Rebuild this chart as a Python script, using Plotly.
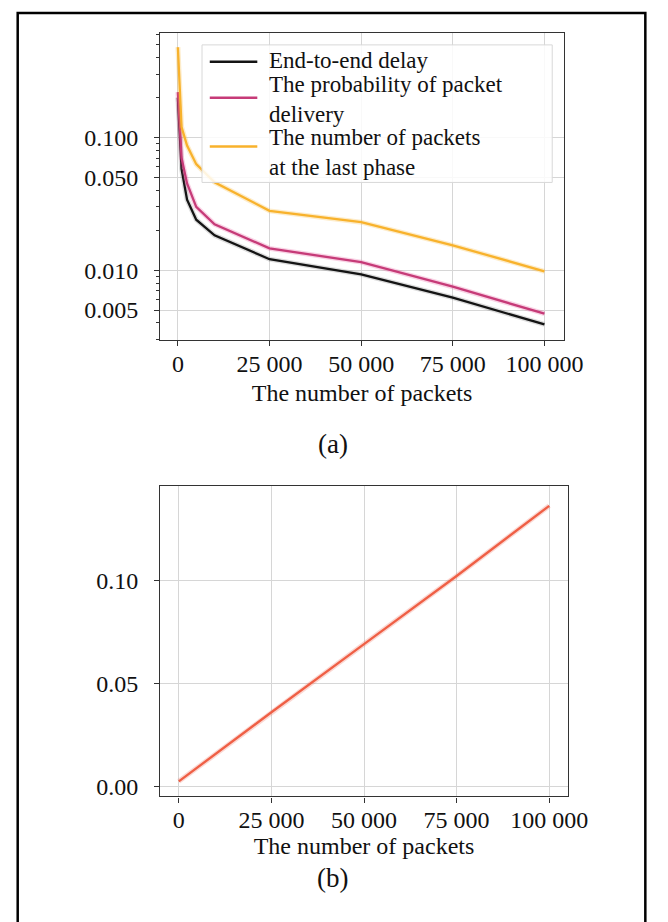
import plotly.graph_objects as go

# ---- data ----
packets = [0, 1000, 2500, 5000, 10000, 25000, 50000, 75000, 100000]
end_to_end_delay = [0.20, 0.058, 0.034, 0.024, 0.0183, 0.0121, 0.0093, 0.0062, 0.0039]
prob_delivery = [0.22, 0.070, 0.045, 0.030, 0.0222, 0.0146, 0.0115, 0.0075, 0.0047]
packets_last_phase = [0.48, 0.120, 0.087, 0.063, 0.046, 0.028, 0.023, 0.0154, 0.0098]

packets_b = [0, 25000, 50000, 75000, 100000]
values_b = [0.0025, 0.036, 0.069, 0.102, 0.136]

x_tick_vals = [0, 25000, 50000, 75000, 100000]
x_tick_text = ["0", "25 000", "50 000", "75 000", "100 000"]
ya_tick_vals = [0.005, 0.01, 0.05, 0.1]
ya_tick_text = ["0.005", "0.010", "0.050", "0.100"]
yb_tick_vals = [0.0, 0.05, 0.10]
yb_tick_text = ["0.00", "0.05", "0.10"]

legend_labels = ["End-to-end delay",
                 "The probability of packet<br>delivery",
                 "The number of packets<br>at the last phase"]
line_colors = ["#141414", "#c63b78", "#f8b22c"]
glow_colors = ["rgba(20,20,20,0.15)", "rgba(230,80,150,0.25)", "rgba(248,178,44,0.25)"]
series_a = [end_to_end_delay, prob_delivery, packets_last_phase]

W, H = 668, 922
FONT = "Liberation Serif"
TXT = "#111111"

fig = go.Figure()

for name, ys, col, glow in zip(legend_labels, series_a, line_colors, glow_colors):
    fig.add_trace(go.Scatter(x=packets, y=ys, mode="lines", xaxis="x", yaxis="y",
                             line=dict(color=glow, width=5), showlegend=False, hoverinfo="skip"))
    fig.add_trace(go.Scatter(x=packets, y=ys, mode="lines", name=name.replace("<br>", " "),
                             xaxis="x", yaxis="y", showlegend=False,
                             line=dict(color=col, width=2.3)))

fig.add_trace(go.Scatter(x=packets_b, y=values_b, mode="lines", xaxis="x2", yaxis="y2",
                         line=dict(color="rgba(240,100,80,0.25)", width=5), showlegend=False, hoverinfo="skip"))
fig.add_trace(go.Scatter(x=packets_b, y=values_b, mode="lines", xaxis="x2", yaxis="y2",
                         line=dict(color="#ef5f45", width=2.3), showlegend=False))

axis_common = dict(showline=True, linecolor="#333333", linewidth=1.3, mirror=True,
                   showgrid=True, gridcolor="#d6d6d6", gridwidth=1,
                   ticks="outside", ticklen=5, tickcolor="#333333", tickwidth=1.2,
                   zeroline=False, tickfont=dict(family=FONT, size=24, color=TXT))


def px_x(a, b):
    return [a / W, b / W]


def px_y(top, bottom):
    return [1 - bottom / H, 1 - top / H]


def py(v):
    return 1 - v / H


# ---- hand-placed legend (box, sample lines, texts) ----
box_l, box_r, box_t, box_b = 200, 561, 37, 175
entry_centers = [53, 92, 145]
sample_centers = [54, 90, 139]
sample_x0, sample_x1, text_x = 208, 257, 267

shapes = [
    dict(type="rect", xref="paper", yref="paper", x0=box_l / W, x1=box_r / W,
         y0=py(box_b), y1=py(box_t), line=dict(color="#d8d8d8", width=1),
         fillcolor="rgba(255,255,255,0.85)", layer="above"),
]
annotations = []
for lab, col, yc, ys in zip(legend_labels, line_colors, entry_centers, sample_centers):
    shapes.append(dict(type="line", xref="paper", yref="paper", x0=sample_x0 / W, x1=sample_x1 / W,
                       y0=py(ys), y1=py(ys), line=dict(color=col, width=2.5), layer="above"))
    annotations.append(dict(text=lab, x=text_x / W, y=py(yc), xref="paper", yref="paper",
                            xanchor="left", yanchor="middle", align="left", showarrow=False,
                            font=dict(family=FONT, size=23, color=TXT)))

annotations += [
    dict(text="(a)", x=335 / W, y=py(437), xref="paper", yref="paper",
         showarrow=False, font=dict(family=FONT, size=27, color=TXT)),
    dict(text="(b)", x=335 / W, y=py(890), xref="paper", yref="paper",
         showarrow=False, font=dict(family=FONT, size=27, color=TXT)),
]

shapes.append(dict(type="rect", xref="paper", yref="paper", x0=10 / W, x1=657 / W,
                   y0=-0.02, y1=py(5), line=dict(color="black", width=2.5), layer="above"))

fig.update_layout(
    width=W, height=H,
    margin=dict(l=0, r=0, t=0, b=0),
    paper_bgcolor="white", plot_bgcolor="white",
    font=dict(family=FONT, size=24, color=TXT),
    showlegend=False,
    xaxis=dict(axis_common, domain=px_x(157, 573), range=[-4800, 105300], anchor="y",
               tickvals=x_tick_vals, ticktext=x_tick_text, ticklabelstandoff=-3,
               title=dict(text="The number of packets", font=dict(family=FONT, size=24, color=TXT), standoff=8)),
    yaxis=dict(axis_common, domain=px_y(25, 333), type="log", range=[-2.526, -0.211], anchor="x",
               tickvals=ya_tick_vals, ticktext=ya_tick_text, ticklabelstandoff=11,
               minor=dict(dtick="D1", ticks="outside", ticklen=3, tickcolor="#333333", showgrid=False)),
    xaxis2=dict(axis_common, domain=px_x(157, 577), range=[-5000, 105000], anchor="y2",
                tickvals=x_tick_vals, ticktext=x_tick_text, ticklabelstandoff=-3,
                title=dict(text="The number of packets", font=dict(family=FONT, size=24, color=TXT), standoff=4)),
    yaxis2=dict(axis_common, domain=px_y(480, 791), range=[-0.0048, 0.1454], anchor="x2",
                tickvals=yb_tick_vals, ticktext=yb_tick_text, ticklabelstandoff=11),
    annotations=annotations,
    shapes=shapes,
)

fig.write_html("out.html")
